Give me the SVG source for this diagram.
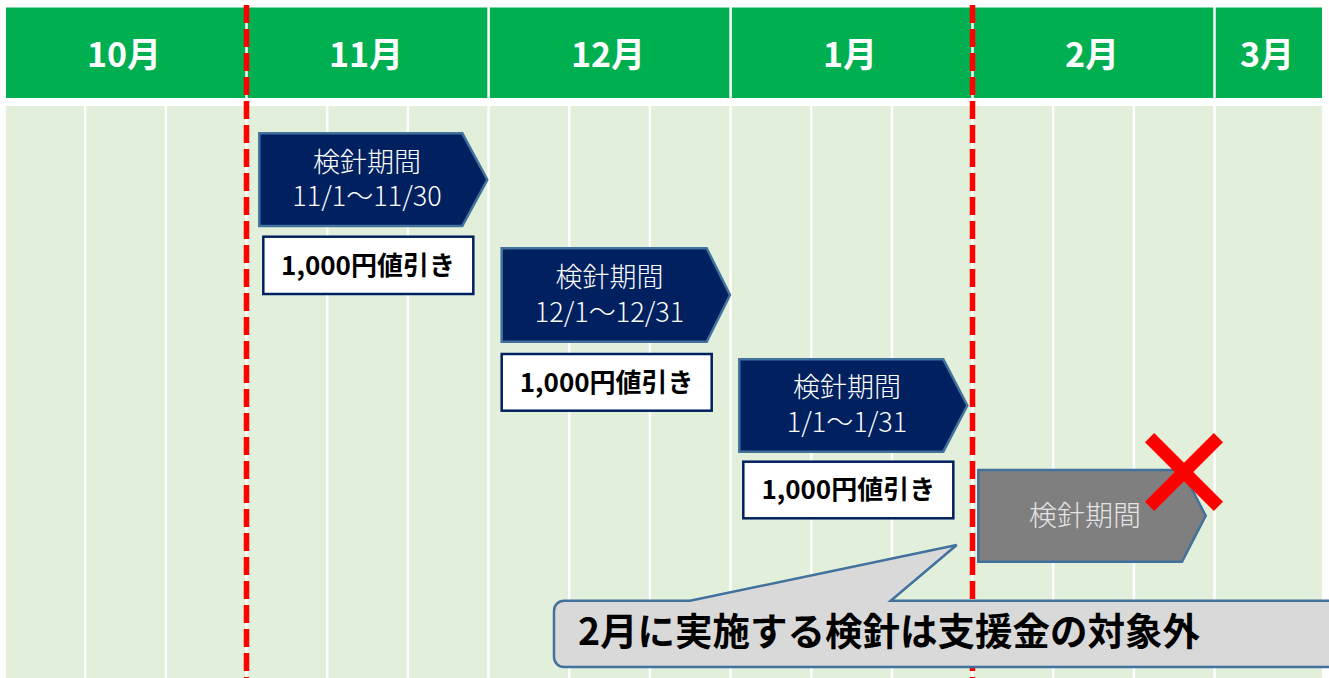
<svg xmlns="http://www.w3.org/2000/svg" width="1329" height="678" viewBox="0 0 1329 678">
<style>
.hdr{fill:#00B050}
.hdrt{font-family:"Noto Sans CJK JP","Noto Sans",sans-serif;font-weight:bold;font-size:34px;fill:#FFFFFF;text-anchor:middle}
.vl{stroke:#FFFFFF;stroke-width:2.5}
.red{stroke:#FF0000;stroke-width:5.5;stroke-dasharray:18 6;fill:none}
.arr{fill:#002060;stroke:#41719C;stroke-width:2.5}
.arrg{fill:#7F7F7F;stroke:#41719C;stroke-width:2.5}
.at{font-family:"Noto Sans CJK JP","Noto Sans",sans-serif;font-weight:300;font-size:27px;fill:#FFFFFF;text-anchor:middle}
.atg{font-family:"Noto Sans CJK JP","Noto Sans",sans-serif;font-weight:300;font-size:28px;fill:#E4E4E4;text-anchor:middle}
.box{fill:#FFFFFF;stroke:#002060;stroke-width:2.5}
.bt{font-family:"Noto Sans CJK JP","Noto Sans",sans-serif;font-weight:bold;font-size:26px;fill:#000000;text-anchor:middle}
.call{fill:#D9D9D9;stroke:#41719C;stroke-width:2.5}
.ct{font-family:"Noto Sans CJK JP","Noto Sans",sans-serif;font-weight:bold;font-size:37.5px;fill:#000000}
.x{stroke:#FF0000;stroke-width:13;stroke-linecap:butt}
</style>
<rect x="0" y="0" width="1329" height="678" fill="#FFFFFF"/>
<g id="grid">
<rect x="6" y="106" width="1316" height="572" fill="#E2EFDA"/>
<rect class="hdr" x="6" y="7.5" width="1316" height="90.5"/>
<line class="vl" x1="85.2" y1="98" x2="85.2" y2="678"/>
<line class="vl" x1="165.9" y1="98" x2="165.9" y2="678"/>
<line class="vl" x1="246.5" y1="7" x2="246.5" y2="678"/>
<line class="vl" x1="327.2" y1="98" x2="327.2" y2="678"/>
<line class="vl" x1="407.9" y1="98" x2="407.9" y2="678"/>
<line class="vl" x1="488.6" y1="7" x2="488.6" y2="678"/>
<line class="vl" x1="569.2" y1="98" x2="569.2" y2="678"/>
<line class="vl" x1="649.9" y1="98" x2="649.9" y2="678"/>
<line class="vl" x1="730.6" y1="7" x2="730.6" y2="678"/>
<line class="vl" x1="811.3" y1="98" x2="811.3" y2="678"/>
<line class="vl" x1="891.9" y1="98" x2="891.9" y2="678"/>
<line class="vl" x1="972.5" y1="7" x2="972.5" y2="678"/>
<line class="vl" x1="1053.2" y1="98" x2="1053.2" y2="678"/>
<line class="vl" x1="1133.9" y1="98" x2="1133.9" y2="678"/>
<line class="vl" x1="1214.5" y1="7" x2="1214.5" y2="678"/>
<rect x="6" y="98" width="1316" height="8" fill="#FFFFFF"/>
</g>
<g id="months">
<text class="hdrt" x="124" y="66.5">10月</text>
<text class="hdrt" x="366" y="66.5">11月</text>
<text class="hdrt" x="608" y="66.5">12月</text>
<text class="hdrt" x="850" y="66.5">1月</text>
<text class="hdrt" x="1092" y="66.5">2月</text>
<text class="hdrt" x="1267" y="66.5">3月</text>
</g>
<g id="connectors">
<line class="red" x1="246.5" y1="5" x2="246.5" y2="678"/>
<line class="red" x1="972.5" y1="5" x2="972.5" y2="678"/>
</g>
<g id="period-nov">
<path class="arr" d="M259.3,133.3 H462.3 L487.3,179.7 L462.3,226 H259.3 Z"/>
<text class="at" x="367" y="171.5">検針期間<tspan x="367" dy="34.5">11/1～11/30</tspan></text>
</g>
<g id="discount-nov">
<rect class="box" x="263.3" y="236.7" width="210" height="57.3"/>
<text class="bt" x="368" y="275">1,000円値引き</text>
</g>
<g id="period-dec">
<path class="arr" d="M501.7,248.3 H706.7 L730,295 L706.7,341.7 H501.7 Z"/>
<text class="at" x="609.5" y="287">検針期間<tspan x="609.5" dy="34.5">12/1～12/31</tspan></text>
</g>
<g id="discount-dec">
<rect class="box" x="501.7" y="354" width="210" height="56.7"/>
<text class="bt" x="606.7" y="392">1,000円値引き</text>
</g>
<g id="period-jan">
<path class="arr" d="M739.3,359.3 H943.3 L967.3,405.5 L943.3,451.7 H739.3 Z"/>
<text class="at" x="847" y="397">検針期間<tspan x="847" dy="35">1/1～1/31</tspan></text>
</g>
<g id="discount-jan">
<rect class="box" x="743.3" y="461.7" width="210" height="56.6"/>
<text class="bt" x="848.3" y="499">1,000円値引き</text>
</g>
<g id="period-feb">
<path class="arrg" d="M978.3,470 H1182 L1205.7,515.8 L1182,561.7 H978.3 Z"/>
<text class="atg" x="1085" y="526">検針期間</text>
</g>
<g id="cross">
<line class="x" x1="1149.6" y1="437.6" x2="1218.4" y2="506.4"/>
<line class="x" x1="1218.4" y1="437.6" x2="1149.6" y2="506.4"/>
</g>
<g id="callout">
<path class="call" d="M564,600.7 H690 L956.7,545 L890.7,600.7 H1345 V667 H564 A10,10 0 0 1 554,657 V610.7 A10,10 0 0 1 564,600.7 Z"/>
<text class="ct" x="578" y="645">2月に実施する検針は支援金の対象外</text>
</g>
</svg>
